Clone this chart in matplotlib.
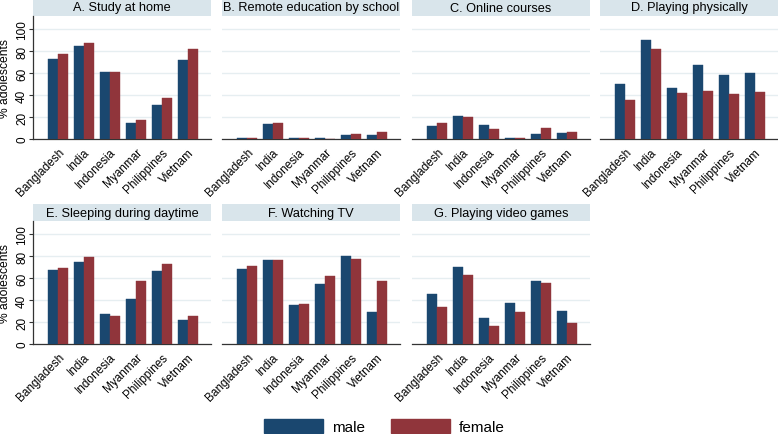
import matplotlib
matplotlib.use('Agg')
import matplotlib.pyplot as plt
import numpy as np
from matplotlib.patches import Patch, Rectangle

plt.rcParams['font.family'] = ['Liberation Sans', 'DejaVu Sans']

countries = ['Bangladesh', 'India', 'Indonesia', 'Myanmar', 'Philippines', 'Vietnam']
titles = ['A. Study at home', 'B. Remote education by school', 'C. Online courses',
          'D. Playing physically', 'E. Sleeping during daytime', 'F. Watching TV',
          'G. Playing video games']

male_A = [73, 85, 61, 15, 31, 72]
female_A = [77, 87, 61, 17, 37, 82]
male_B = [0.5, 14, 0.5, 1, 3.6, 3.8]
female_B = [0.5, 14.5, 0.5, 0, 4.6, 6.6]
male_C = [12, 21, 12.5, 0.5, 4.2, 5.2]
female_C = [15, 20.3, 9.4, 0.5, 9.7, 6.4]
male_D = [50, 90, 46.4, 67, 58.5, 59.7]
female_D = [35.5, 81.5, 41.8, 44, 41, 42.4]
male_E = [67.5, 74.7, 27.7, 41, 66.9, 21.7]
female_E = [69.6, 79, 25.3, 57.2, 73.2, 25.3]
male_F = [68.7, 76.8, 35.8, 54.5, 80.4, 29.5]
female_F = [71.4, 76.5, 36.7, 62.3, 77.4, 57.8]
male_G = [45.2, 70.2, 24.1, 37, 57.8, 29.8]
female_G = [34, 63, 16.6, 29.5, 56, 19.3]

males = [male_A, male_B, male_C, male_D, male_E, male_F, male_G]
females = [female_A, female_B, female_C, female_D, female_E, female_F, female_G]

yticks = [0, 20, 40, 60, 80, 100]

navy = '#1a476f'
maroon = '#90353b'
strip_col = '#d9e5eb'
grid_col = '#e6eef1'

W, H = 778, 435
fig = plt.figure(figsize=(W / 100, H / 100), dpi=100)

col_left = [33, 222, 412, 600]
ax_w = 178
row_bottom = [140, 345]
ax_h = 123
strip_h = 17

x = np.arange(len(countries))
bw = 0.385

for i in range(7):
    r, c = divmod(i, 4)
    left = col_left[c] / W
    bottom = (H - row_bottom[r]) / H
    ax = fig.add_axes([left, bottom, ax_w / W, ax_h / H])
    ax.bar(x - bw / 2, males[i], width=bw, color=navy, edgecolor=navy, linewidth=0.3, zorder=3)
    ax.bar(x + bw / 2, females[i], width=bw, color=maroon, edgecolor=maroon, linewidth=0.3, zorder=3)
    ax.set_xlim(-0.96, 5.88)
    ax.set_ylim(0, 112)
    ax.set_yticks(yticks)
    ax.yaxis.grid(True, color=grid_col, linewidth=1.0, zorder=0)
    ax.set_axisbelow(True)
    for s in ['top', 'right']:
        ax.spines[s].set_visible(False)
    ax.spines['bottom'].set_color('#333333')
    ax.spines['bottom'].set_linewidth(0.9)
    ax.set_xticks(x)
    ax.set_xticklabels(countries, rotation=45, ha='right', rotation_mode='anchor', fontsize=8.5)
    ax.tick_params(axis='x', length=0, pad=5)
    if c == 0:
        ax.spines['left'].set_color('#333333')
        ax.spines['left'].set_linewidth(0.9)
        ax.set_yticklabels([str(v) for v in yticks], rotation=90, va='center', fontsize=8.5)
        ax.tick_params(axis='y', length=3, width=0.8, color='#333333', pad=0.5)
        ax.set_ylabel('% adolescents', fontsize=8.7, labelpad=4)
    else:
        ax.spines['left'].set_visible(False)
        ax.tick_params(axis='y', left=False, labelleft=False)
    sh = strip_h / ax_h
    ax.add_patch(Rectangle((0, 1.0), 1, sh, transform=ax.transAxes, facecolor=strip_col,
                           edgecolor='none', clip_on=False, zorder=1))
    ax.text(0.5, 1.0 + sh / 2, titles[i], transform=ax.transAxes, ha='center', va='center',
            fontsize=9.2, color='black')

handles = [Patch(facecolor=navy, edgecolor=navy), Patch(facecolor=maroon, edgecolor=maroon)]
fig.legend(handles, ['male', 'female'], loc='lower center', bbox_to_anchor=(0.494, 0.0),
           ncol=2, frameon=False, fontsize=11, handlelength=3.86, handleheight=1.05,
           handletextpad=0.59, columnspacing=1.7, borderpad=0, borderaxespad=0)

fig.savefig('out.png', dpi=100)
